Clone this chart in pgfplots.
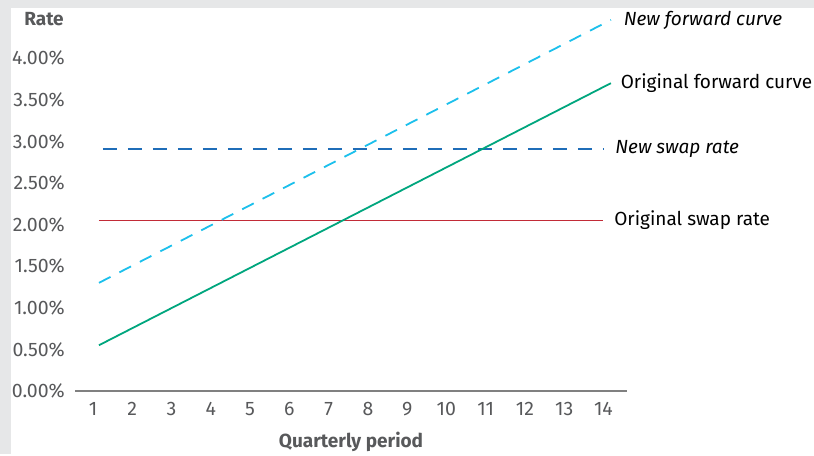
\documentclass[border=0pt]{standalone}
\usepackage{pgfplots}
\pgfplotsset{compat=1.18}
\usepackage{fontspec}
\setmainfont{Fira Sans}
\definecolor{bggray}{HTML}{E6E7E8}
\definecolor{txtgray}{HTML}{58595B}
\definecolor{axgray}{HTML}{808080}
\definecolor{fwdgreen}{HTML}{00A67E}
\definecolor{fwdcyan}{HTML}{1CC0EC}
\definecolor{swapblue}{HTML}{1F6DB8}
\definecolor{swapred}{HTML}{C22B37}
\begin{document}
\begin{tikzpicture}[x=1pt,y=1pt]
\fill[bggray] (0,0) rectangle (814,454);
\fill[white] (11,0) rectangle (814,446);
\node[font=\fontsize{19}{22}\selectfont\bfseries, text=txtgray] at (44,435) {Rate};
\node[font=\fontsize{19}{22}\selectfont\bfseries, text=txtgray] at (351,12) {Quarterly period};
\begin{axis}[
  at={(75pt,63pt)}, anchor=south west,
  scale only axis, width=552pt, height=382.7pt,
  xmin=0.54, xmax=14.6, ymin=0, ymax=4.6,
  clip=false,
  axis x line*=bottom, axis y line*=left,
  y axis line style={draw=none},
  x axis line style={draw=axgray, line width=1.6pt, -},
  major tick length=0pt,
  tick style={draw=none},
  xtick={1,...,14},
  ytick={0,0.5,...,4},
  /pgf/number format/assume math mode=true,
  ticklabel style={font=\fontsize{19.5}{22}\selectfont, text=txtgray},
  yticklabel={\pgfmathprintnumber[fixed,fixed zerofill,precision=2]{\tick}\%},
  yticklabel style={anchor=east, inner sep=0pt, xshift=-10pt},
  xticklabel style={anchor=north, inner sep=0pt, yshift=-11pt},
]
\addplot[swapred, line width=1.8pt] coordinates {(1.15,2.05) (14.0,2.05)}
  node[pos=1, anchor=west, inner sep=0pt, xshift=10pt, font=\fontsize{19}{22}\selectfont, text=black] {Original swap rate};
\addplot[swapblue, line width=1.8pt, dash pattern=on 14pt off 11pt] coordinates {(1.25,2.91) (14.0,2.91)}
  node[pos=1, anchor=west, inner sep=0pt, xshift=11pt, font=\fontsize{19}{22}\selectfont\itshape, text=black] {New swap rate};
\addplot[fwdgreen, line width=1.8pt] coordinates {(1.15,0.55) (14.19,3.70)}
  node[pos=1, anchor=west, inner sep=0pt, xshift=9pt, font=\fontsize{19}{22}\selectfont, text=black] {Original forward curve};
\addplot[fwdcyan, line width=1.8pt, dash pattern=on 13pt off 10pt] coordinates {(1.15,1.30) (14.19,4.46)}
  node[pos=1, anchor=west, inner sep=0pt, xshift=12pt, font=\fontsize{19}{22}\selectfont\itshape, text=black] {New forward curve};
\end{axis}
\end{tikzpicture}
\end{document}
